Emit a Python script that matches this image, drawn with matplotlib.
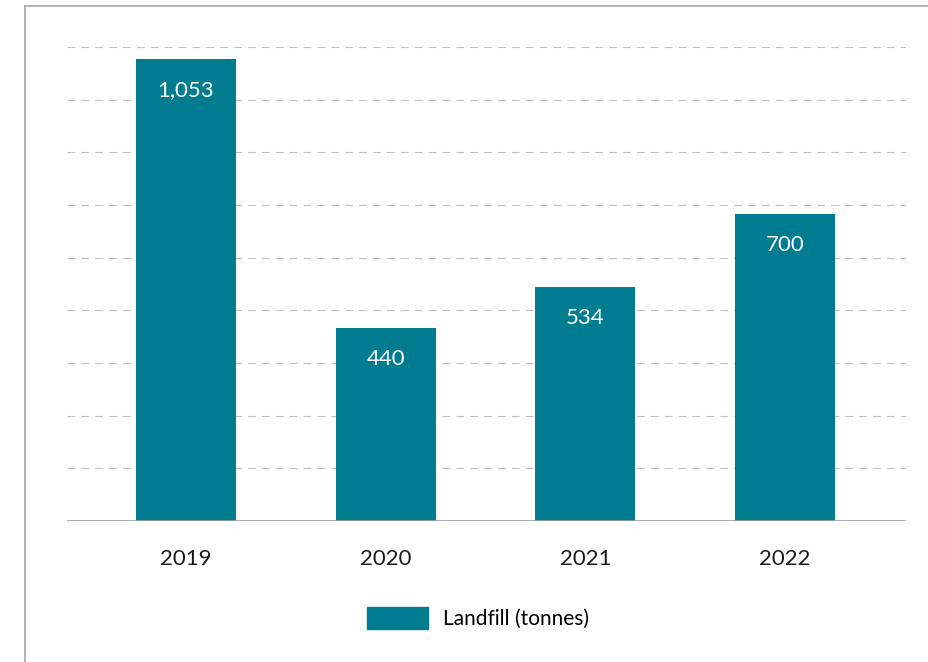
import matplotlib.pyplot as plt
from matplotlib.patches import Patch
from matplotlib.lines import Line2D

plt.rcParams['font.family'] = ['Lato', 'DejaVu Sans']

years = ['2019', '2020', '2021', '2022']
landfill = [1053, 440, 534, 700]
gridlines = [120, 240, 360, 480, 600, 720, 840, 960, 1080]
series_name = 'Landfill (tonnes)'

teal = '#007C91'

fig = plt.figure(figsize=(9.29, 6.62), dpi=100)
W, H = 929, 662
# plot area in pixels: x 67..906, baseline at y=521, 1080 at y=47
ax = fig.add_axes([67 / W, 1 - 521 / H, (906 - 67) / W, (521 - 47) / H])

x = range(len(years))
bars = ax.bar(x, landfill, width=0.5, color=teal, zorder=3)
ax.set_xlim(-0.595, 3.605)
ax.set_ylim(0, 1080)

for g in gridlines:
    ax.axhline(g, color='#BFBFBF', lw=0.8, dashes=(7, 5.5), zorder=1)
ax.axhline(0, color='#A0A0A0', lw=1.2, zorder=4)

for b, v in zip(bars, landfill):
    ax.annotate(f'{v:,}', (b.get_x() + b.get_width() / 2, v),
                xytext=(0, -22.5), textcoords='offset points',
                ha='center', va='center', color='white', fontsize=16)

ax.set_xticks(list(x))
ax.set_xticklabels(years, fontsize=16, color='#1a1a1a')
ax.tick_params(axis='x', length=0, pad=20.5)
ax.set_yticks([])
for s in ax.spines.values():
    s.set_visible(False)

# legend below the plot
fig.legend(handles=[Patch(color=teal, label=series_name)],
           loc='center', bbox_to_anchor=(478 / W, 1 - 618 / H),
           frameon=False, fontsize=15, handlelength=2.95, handleheight=1.25,
           handletextpad=0.72)

# outer frame: top and left border lines
fig.add_artist(Line2D([25 / W, 1], [1 - 6 / H, 1 - 6 / H],
                      transform=fig.transFigure, color='#A6A6A6', lw=1.2))
fig.add_artist(Line2D([25 / W, 25 / W], [0, 1 - 6 / H],
                      transform=fig.transFigure, color='#A6A6A6', lw=1.2))

fig.savefig('out.png', dpi=100)
